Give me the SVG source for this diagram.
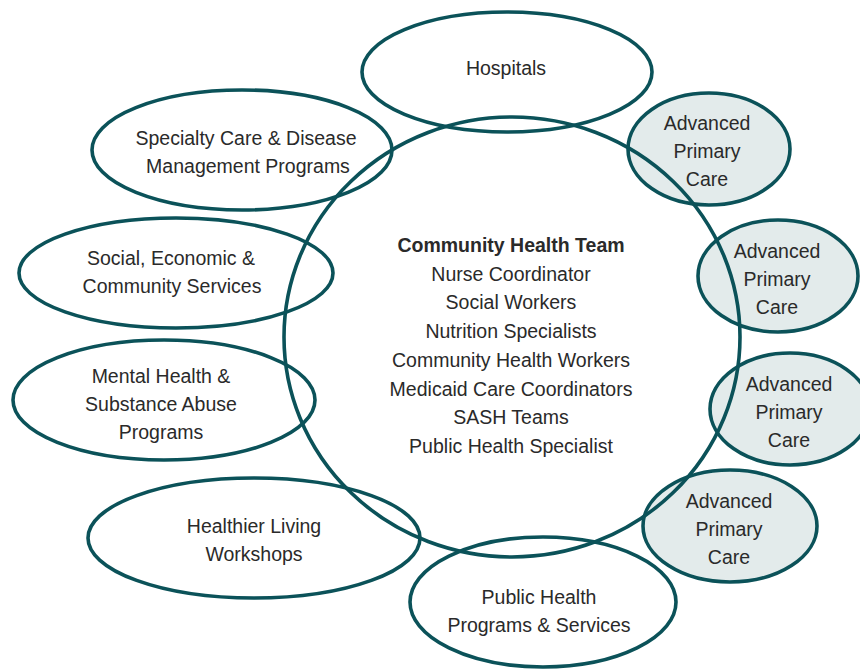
<svg xmlns="http://www.w3.org/2000/svg" width="860" height="669" viewBox="0 0 860 669">
<style>
.o{fill:none;stroke:#0b5259;stroke-width:3.6}
.w{fill:#ffffff;stroke:none}
.f{fill:#e3ebeb;stroke:none}
text{font-family:"Liberation Sans",Arial,sans-serif;font-size:19.5px;fill:#2a2a2a;text-anchor:middle}
.b{font-weight:bold}
</style>
<rect width="860" height="669" fill="#ffffff"/>
<g id="fills">
<ellipse class="f" cx="709" cy="149" rx="81" ry="56"/>
<ellipse class="f" cx="778" cy="276" rx="80" ry="56"/>
<ellipse class="f" cx="790" cy="409" rx="80" ry="56"/>
<ellipse class="f" cx="730" cy="526" rx="87" ry="56"/>
</g>
<g id="connectors"></g>
<g id="community-health-team">
<ellipse class="o" cx="512" cy="337" rx="228" ry="220"/>
<text class="b" x="511" y="252">Community Health Team</text>
<text x="511" y="281">Nurse Coordinator</text>
<text x="511" y="309">Social Workers</text>
<text x="511" y="338">Nutrition Specialists</text>
<text x="511" y="367">Community Health Workers</text>
<text x="511" y="396">Medicaid Care Coordinators</text>
<text x="511" y="424">SASH Teams</text>
<text x="511" y="453">Public Health Specialist</text>
</g>
<g id="hospitals">
<ellipse class="o" cx="507" cy="72" rx="145" ry="60"/>
<text x="506" y="75">Hospitals</text>
</g>
<g id="specialty-care">
<ellipse class="o" cx="242" cy="150" rx="150" ry="60"/>
<text x="246" y="145">Specialty Care &amp; Disease</text>
<text x="248" y="173">Management Programs</text>
</g>
<g id="social-services">
<ellipse class="o" cx="176" cy="273" rx="157" ry="55"/>
<text x="171" y="265">Social, Economic &amp;</text>
<text x="172" y="293">Community Services</text>
</g>
<g id="mental-health">
<ellipse class="o" cx="164" cy="400" rx="151" ry="60"/>
<text x="161" y="383">Mental Health &amp;</text>
<text x="161" y="411">Substance Abuse</text>
<text x="161" y="439">Programs</text>
</g>
<g id="healthier-living">
<ellipse class="o" cx="254" cy="538" rx="166" ry="60"/>
<text x="254" y="533">Healthier Living</text>
<text x="254" y="561">Workshops</text>
</g>
<g id="public-health">
<ellipse class="o" cx="543" cy="602" rx="133" ry="65"/>
<text x="539" y="604">Public Health</text>
<text x="539" y="632">Programs &amp; Services</text>
</g>
<g id="apc-1">
<ellipse class="o" cx="709" cy="149" rx="81" ry="56"/>
<text x="707" y="130">Advanced</text>
<text x="707" y="158">Primary</text>
<text x="707" y="186">Care</text>
</g>
<g id="apc-2">
<ellipse class="o" cx="778" cy="276" rx="80" ry="56"/>
<text x="777" y="258">Advanced</text>
<text x="777" y="286">Primary</text>
<text x="777" y="314">Care</text>
</g>
<g id="apc-3">
<ellipse class="o" cx="790" cy="409" rx="80" ry="56"/>
<text x="789" y="391">Advanced</text>
<text x="789" y="419">Primary</text>
<text x="789" y="447">Care</text>
</g>
<g id="apc-4">
<ellipse class="o" cx="730" cy="526" rx="87" ry="56"/>
<text x="729" y="508">Advanced</text>
<text x="729" y="536">Primary</text>
<text x="729" y="564">Care</text>
</g>
</svg>
